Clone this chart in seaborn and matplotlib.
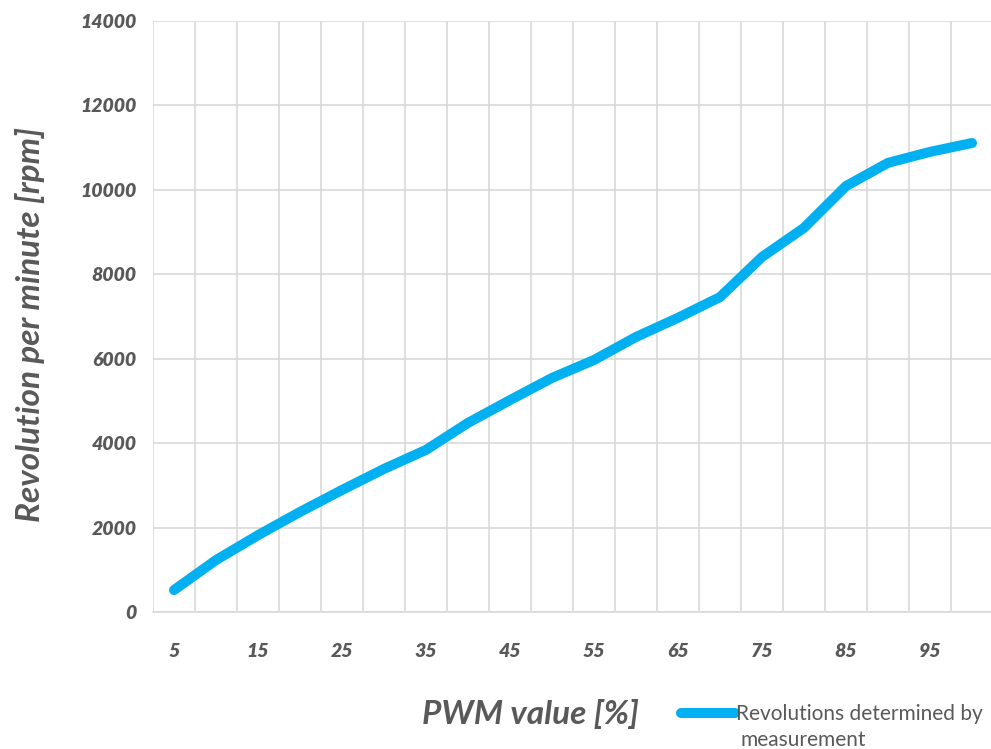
import numpy as np
import pandas as pd
import matplotlib
matplotlib.use("Agg")
import matplotlib.pyplot as plt
import seaborn as sns
from matplotlib.ticker import FixedLocator

pwm = [5, 10, 15, 20, 25, 30, 35, 40, 45, 50, 55, 60, 65, 70, 75, 80, 85, 90, 95, 100]
rpm = [520, 1230, 1820, 2370, 2890, 3390, 3840, 4480, 5020, 5545,
       5970, 6515, 6970, 7460, 8410, 9100, 10090, 10640, 10900, 11110]
x_ticks = [5, 15, 25, 35, 45, 55, 65, 75, 85, 95]
y_ticks = [0, 2000, 4000, 6000, 8000, 10000, 12000, 14000]
series_name = ["Revolutions determined by", "measurement"]

df = pd.DataFrame({"pwm": pwm, "rpm": rpm})

sns.set_style("white")
plt.rcParams['font.family'] = ['Lato', 'DejaVu Sans']

grey = "#595959"
grid_c = "#d9d9d9"
blue = "#00B0F0"

fig = plt.figure(figsize=(9.91, 7.49), dpi=100)
ax = fig.add_axes([153 / 991, 137 / 749, 840 / 991, 591 / 749])

sns.lineplot(data=df, x="pwm", y="rpm", ax=ax, color=blue, linewidth=7.2,
             solid_capstyle="round", solid_joinstyle="round", label=series_name[0])

ax.set_xlim(2.5, 102.5)
ax.set_ylim(0, 14000)
ax.set_yticks(y_ticks)
ax.set_xticks(x_ticks)
ax.xaxis.set_minor_locator(FixedLocator(np.arange(2.5, 103, 5)))
ax.grid(False)
ax.grid(True, which="minor", axis="x", color=grid_c, linewidth=1.2)
ax.grid(True, which="major", axis="y", color=grid_c, linewidth=1.2)
ax.set_axisbelow(True)

for s in ["top", "right", "left"]:
    ax.spines[s].set_visible(False)
ax.spines["bottom"].set_color(grid_c)
ax.spines["bottom"].set_linewidth(1.2)

ax.tick_params(axis="both", which="both", length=0)
ax.tick_params(axis="y", pad=12)
ax.tick_params(axis="x", pad=22)
for lab in ax.get_xticklabels() + ax.get_yticklabels():
    lab.set_fontsize(14)
    lab.set_fontweight("heavy")
    lab.set_fontstyle("italic")
    lab.set_color(grey)

ax.set_xlabel("")
ax.set_ylabel("")
fig.text(530 / 991, 1 - 714 / 749, "PWM value [%]", fontsize=24, fontweight="bold",
         fontstyle="italic", color=grey, ha="center", va="center")
fig.text(30 / 991, 1 - 324 / 749, "Revolution per minute [rpm]", fontsize=24,
         fontweight="bold", fontstyle="italic", color=grey, ha="center",
         va="center", rotation=90)

leg = ax.legend(loc="center left", bbox_to_anchor=(681 / 991, 1 - 714 / 749),
                bbox_transform=fig.transFigure, frameon=False, fontsize=15,
                handlelength=2.6, handletextpad=0.05, borderaxespad=0,
                borderpad=0)
for t in leg.get_texts():
    t.set_color(grey)
fig.text(740 / 991, 1 - 740 / 749, series_name[1], fontsize=15, color=grey,
         ha="left", va="center")

fig.savefig("out.png", dpi=100)
